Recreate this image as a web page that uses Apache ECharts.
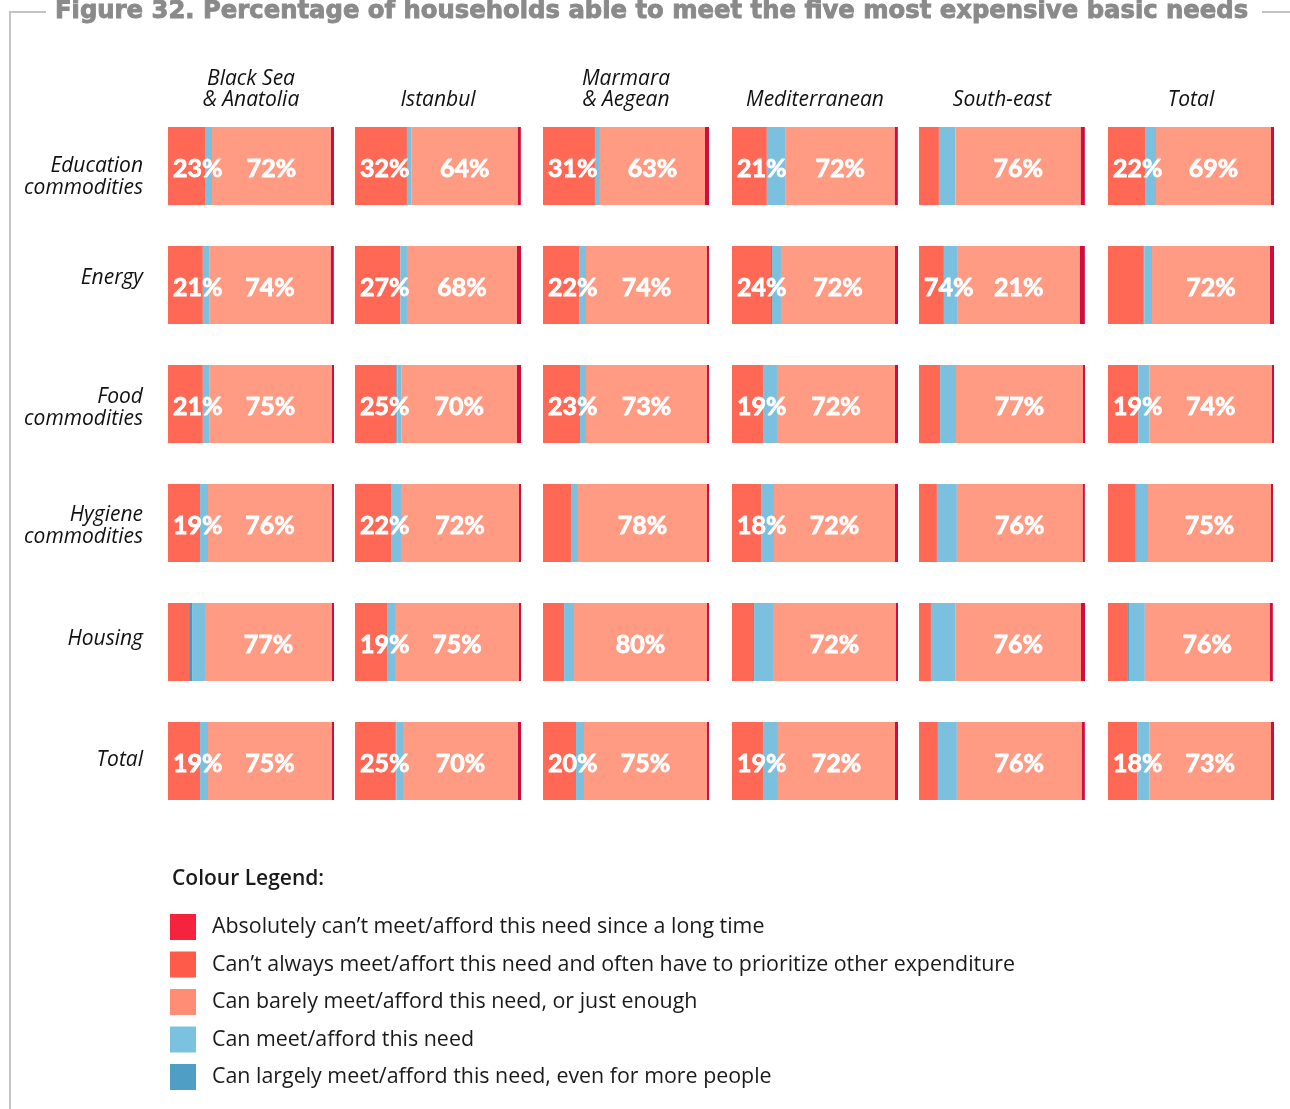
<!DOCTYPE html>
<html><head><meta charset="utf-8">
<script src="https://cdn.jsdelivr.net/npm/echarts@6/dist/echarts.min.js"></script>
<style>html,body{margin:0;padding:0;background:#fff}#c{width:1290px;height:1109px}</style>
</head><body><div id="c"></div>
<script>
// ---------- DATA ----------
const title = 'Figure 32. Percentage of households able to meet the five most expensive basic needs';
const regions = ['Black Sea\n& Anatolia', 'Istanbul', 'Marmara\n& Aegean', 'Mediterranean', 'South-east', 'Total'];
const needs = ['Education\ncommodities', 'Energy', 'Food\ncommodities', 'Hygiene\ncommodities', 'Housing', 'Total'];
const legendNames = [
  'Absolutely can\u2019t meet/afford this need since a long time',
  'Can\u2019t always meet/affort this need and often have to prioritize other expenditure',
  'Can barely meet/afford this need, or just enough',
  'Can meet/afford this need',
  'Can largely meet/afford this need, even for more people'
];
// values per region (each inner array follows `needs` order)
const cantAlways = [
  [22.3, 21.0, 21.0, 19.3, 12.7, 19.3],
  [31.3, 27.3, 24.9, 21.7, 19.3, 24.3],
  [31.3, 21.7, 22.3, 16.9, 12.7, 19.9],
  [21.0, 23.5, 18.7, 17.5, 12.7, 18.7],
  [12.0, 15.0, 12.7, 10.8, 7.2, 11.4],
  [22.3, 21.3, 18.2, 16.7, 12.0, 17.6]
];
const largely = [
  [0, 0, 0, 0, 1.8, 0],
  [0, 0, 0.6, 0, 0, 0.6],
  [0, 0, 0, 0, 0, 0],
  [0, 0.6, 0, 0, 0.6, 0],
  [0, 0, 0, 0, 0, 0],
  [0, 0.6, 0, 0.6, 0.6, 0]
];
const canMeet = [
  [4.2, 3.8, 3.8, 4.8, 7.8, 4.8],
  [2.8, 4.0, 2.6, 6.0, 4.8, 4.0],
  [3.0, 4.2, 3.6, 4.2, 6.0, 4.8],
  [11.4, 5.4, 8.4, 7.8, 11.4, 9.0],
  [10.0, 8.4, 9.6, 12.0, 14.9, 11.4],
  [6.6, 4.6, 6.7, 6.8, 9.6, 7.3]
];
const barely = [
  [71.7, 73.3, 74.0, 74.7, 76.5, 74.7],
  [64.0, 66.3, 69.5, 71.1, 74.7, 69.3],
  [63.3, 72.9, 72.9, 77.7, 80.1, 74.1],
  [65.7, 68.7, 71.1, 72.9, 74.1, 70.5],
  [75.5, 73.5, 76.5, 75.9, 75.5, 75.3],
  [69.3, 71.1, 73.9, 74.1, 75.3, 73.3]
];
const absolutely = [
  [1.8, 1.8, 1.2, 1.2, 1.2, 1.2],
  [1.8, 2.4, 2.4, 1.2, 1.2, 1.8],
  [2.4, 1.2, 1.2, 1.2, 1.2, 1.2],
  [1.8, 1.8, 1.8, 1.8, 1.2, 1.8],
  [2.4, 3.0, 1.2, 1.2, 2.4, 1.8],
  [1.8, 2.4, 1.2, 1.2, 1.8, 1.8]
];
// printed labels (as in the source figure)
const cantAlwaysLabels = [
  ['23%', '21%', '21%', '19%', null, '19%'],
  ['32%', '27%', '25%', '22%', '19%', '25%'],
  ['31%', '22%', '23%', null, null, '20%'],
  ['21%', '24%', '19%', '18%', null, '19%'],
  [null, '74%', null, null, null, null],
  ['22%', null, '19%', null, null, '18%']
];
const barelyLabels = [
  ['72%', '74%', '75%', '76%', '77%', '75%'],
  ['64%', '68%', '70%', '72%', '75%', '70%'],
  ['63%', '74%', '73%', '78%', '80%', '75%'],
  ['72%', '72%', '72%', '72%', '72%', '72%'],
  ['76%', '21%', '77%', '76%', '76%', '76%'],
  ['69%', '72%', '74%', '75%', '76%', '73%']
];

// ---------- STYLE ----------
const barColors = {abs: '#CE0E3E', cant: '#FF6854', barely: '#FF9A83', meet: '#7BC0DE', largely: '#4A97C2'};
const legendColors = ['#F5233D', '#FF5B4A', '#FF8C75', '#7BC2E0', '#4E9EC6'];
const colLeft = [168, 355, 543, 732, 919, 1108];
const colW = 166;
const gridTop = 106.5, gridH = 714;
const rowLabelDy = [11, -7, 4, 3, -3, -1];
const labelFont = {fontFamily: 'Lato', fontWeight: 'bold', fontSize: 25, color: '#fff', textBorderColor: '#fff', textBorderWidth: 0.8};
const italicFont = {fontFamily: 'Open Sans', fontStyle: 'italic', fontSize: 21, fill: '#111'};

const chart = echarts.init(document.getElementById('c'));

const grids = [], xAxes = [], yAxes = [], series = [];
regions.forEach((r, i) => {
  grids.push({left: colLeft[i], top: gridTop, width: colW, height: gridH, containLabel: false});
  xAxes.push({type: 'value', gridIndex: i, min: 0, max: 100, show: false});
  yAxes.push({type: 'category', gridIndex: i, data: needs, inverse: true, show: false});
  const base = {type: 'bar', xAxisIndex: i, yAxisIndex: i, stack: 'r' + i, barWidth: 78, silent: true, animation: false};
  series.push(Object.assign({}, base, {
    name: legendNames[1], data: cantAlways[i], itemStyle: {color: barColors.cant},
    label: Object.assign({show: true, position: 'insideLeft', distance: 5, offset: [0, 3],
      formatter: p => cantAlwaysLabels[i][p.dataIndex] || ''}, labelFont)
  }));
  series.push(Object.assign({}, base, {name: legendNames[4], data: largely[i], itemStyle: {color: barColors.largely}}));
  series.push(Object.assign({}, base, {name: legendNames[3], data: canMeet[i], itemStyle: {color: barColors.meet}}));
  series.push(Object.assign({}, base, {
    name: legendNames[2], data: barely[i], itemStyle: {color: barColors.barely},
    label: Object.assign({show: true, position: 'inside', offset: [0, 3],
      formatter: p => barelyLabels[i][p.dataIndex] || ''}, labelFont)
  }));
  series.push(Object.assign({}, base, {name: legendNames[0], data: absolutely[i], itemStyle: {color: barColors.abs}}));
});

const graphics = [
  {type: 'line', shape: {x1: 10, y1: 12, x2: 46, y2: 12}, style: {stroke: '#c4c4c4', lineWidth: 2}},
  {type: 'line', shape: {x1: 10, y1: 11, x2: 10, y2: 1109}, style: {stroke: '#c4c4c4', lineWidth: 2}},
  {type: 'line', shape: {x1: 1262, y1: 12, x2: 1290, y2: 12}, style: {stroke: '#c4c4c4', lineWidth: 2}},
  {type: 'text', x: 55, y: 24, style: {text: title, fontFamily: 'DejaVu Sans', fontWeight: 'bold', fontSize: 24.3,
    fill: '#8a8a8a', stroke: '#8a8a8a', lineWidth: 0.9, verticalAlign: 'bottom'}},
  {type: 'text', x: 172, y: 879, style: {text: 'Colour Legend:', fontFamily: 'Open Sans', fontWeight: 600, fontSize: 21, fill: '#1a1a1a', verticalAlign: 'middle'}}
];
regions.forEach((r, i) => {
  graphics.push({type: 'text', x: colLeft[i] + colW / 2, y: 111,
    style: Object.assign({text: r, lineHeight: 21, align: 'center', verticalAlign: 'bottom'}, italicFont)});
});

chart.setOption({
  backgroundColor: '#fff',
  animation: false,
  grid: grids, xAxis: xAxes, yAxis: yAxes, series: series,
  legend: {
    orient: 'vertical', left: 165, top: 909, itemWidth: 26, itemHeight: 26, itemGap: 11.5,
    icon: 'rect', selectedMode: false,
    data: legendNames.map((n, k) => ({name: n, itemStyle: {color: legendColors[k]}})),
    textStyle: {fontFamily: 'Open Sans', fontSize: 21.4, color: '#1a1a1a', padding: [0, 0, 0, 11]}
  },
  graphic: graphics
});

// row labels, placed at each category band via the axis scale
const rowGraphics = needs.map((n, k) => {
  const y = chart.convertToPixel({yAxisIndex: 0}, k);
  return {type: 'text', x: 143, y: y + rowLabelDy[k],
    style: Object.assign({text: n, lineHeight: 22, align: 'right', verticalAlign: 'middle'}, italicFont)};
});
chart.setOption({graphic: graphics.concat(rowGraphics)});
</script>
</body></html>
